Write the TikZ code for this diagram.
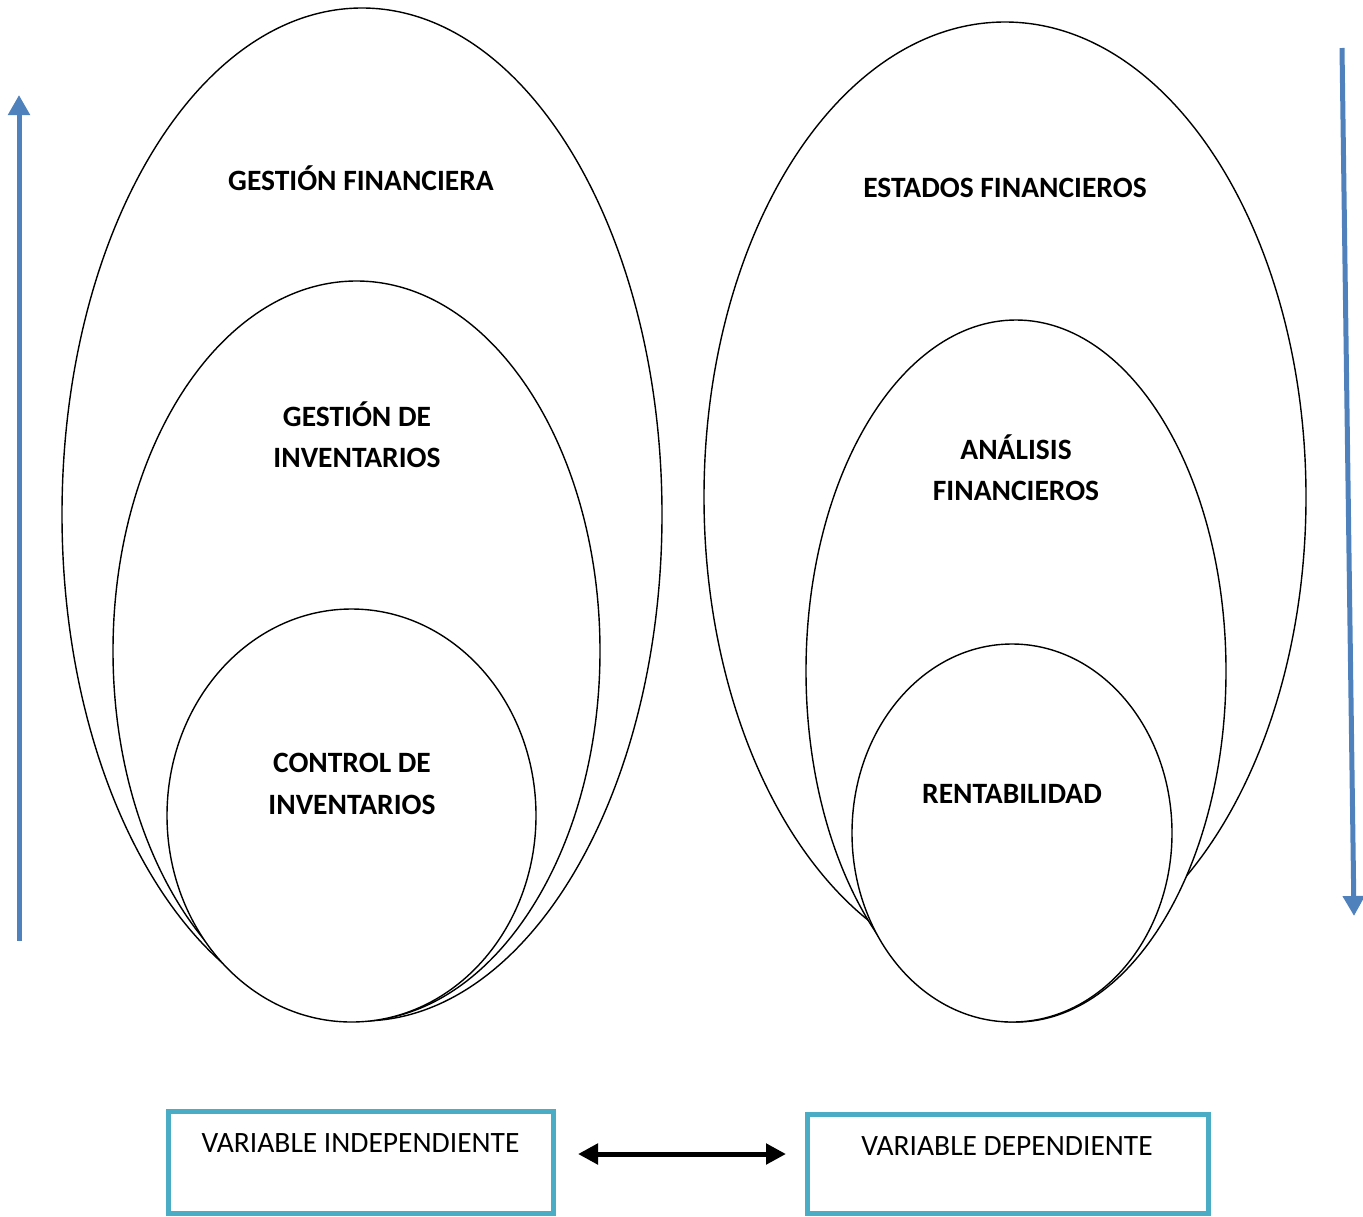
\documentclass[tikz,border=0pt]{standalone}
\usepackage{fontspec}
\setmainfont{Carlito}
\usetikzlibrary{shapes.geometric,arrows.meta}
\definecolor{arrowblue}{HTML}{4F81BD}
\definecolor{boxcyan}{HTML}{4BACC6}
\begin{document}
\begin{tikzpicture}[x=1pt,y=-1pt,
  oval/.style={ellipse, draw=black, line width=1.4pt, fill=white, inner sep=0pt},
  lbl/.style={font=\fontsize{29.5}{41.5}\selectfont\bfseries, align=center, text=black},
  varbox/.style={draw=boxcyan, line width=5pt, fill=white},
  vartext/.style={font=\fontsize{29.5}{34}\selectfont, text=black},
  bluearrow/.style={draw=arrowblue, line width=5pt, -{Triangle[length=20pt,width=21pt]}}]
\useasboundingbox (0,0) rectangle (1363,1216);
% left ellipses
\node[oval, minimum width=600pt, minimum height=1013pt] (lo) at (362,514.5) {};
\node[oval, minimum width=487pt, minimum height=740pt] (lm) at (356.5,651) {};
\node[oval, minimum width=369pt, minimum height=413pt] (li) at (351.5,815.5) {};
% right ellipses
\node[oval, minimum width=602pt, minimum height=950pt] (ro) at (1005,497) {};
\node[oval, minimum width=420pt, minimum height=702pt] (rm) at (1016,671) {};
\node[oval, minimum width=320pt, minimum height=378pt] (ri) at (1012,833) {};
% labels
\node[lbl] (t1) at (361,178) {GESTIÓN FINANCIERA};
\node[lbl] (t2) at (357,434.5) {GESTIÓN DE\\INVENTARIOS};
\node[lbl] (t3) at (352,784) {CONTROL DE\\INVENTARIOS};
\node[lbl] (t4) at (1005,187.5) {ESTADOS FINANCIEROS};
\node[lbl] (t5) at (1016,467.5) {ANÁLISIS\\FINANCIEROS};
\node[lbl] (t6) at (1012,794) {RENTABILIDAD};
% blue arrows
\coordinate (la0) at (19,941);
\coordinate (la1) at (19,95);
\draw[bluearrow] (la0) -- (la1);
\coordinate (ra0) at (1342,48);
\coordinate (ra1) at (1354,916);
\draw[bluearrow] (ra0) -- (ra1);
% boxes
\draw[varbox] (168,1111) rectangle (553,1213);
\node[vartext] (vt1) at (360.5,1143) {VARIABLE INDEPENDIENTE};
\draw[varbox] (807,1114) rectangle (1208,1213);
\node[vartext] (vt2) at (1007,1146) {VARIABLE DEPENDIENTE};
% double arrow
\coordinate (da0) at (578,1154);
\coordinate (da1) at (786,1154);
\draw[line width=5pt, {Triangle[length=20pt,width=20pt]}-{Triangle[length=20pt,width=20pt]}] (da0) -- (da1);
\end{tikzpicture}
\end{document}
